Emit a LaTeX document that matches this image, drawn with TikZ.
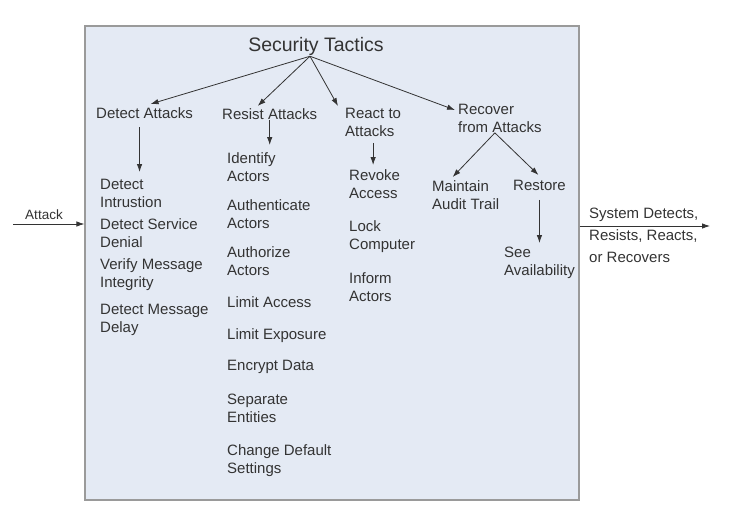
\documentclass[tikz,border=0pt]{standalone}
\usepackage{fontspec}
\setmainfont{Liberation Sans}
\usepackage{xcolor}
\usepackage{tikz}
\usetikzlibrary{arrows.meta}
\usetikzlibrary{positioning}
\definecolor{boxfill}{HTML}{E4EAF4}
\definecolor{boxline}{HTML}{9A9A9A}
\definecolor{inkgray}{HTML}{333333}
\tikzstyle{tactic} = [anchor=north west, inner sep=0pt, align=left, text=inkgray, font=\fontsize{15}{18}\selectfont]
\tikzstyle{arr} = [draw=inkgray, line width=0.8pt, -{Latex[length=8pt,width=5.5pt]}]

\begin{document}
\begin{tikzpicture}[x=1pt, y=-1pt]
\useasboundingbox (0,0) rectangle (735,524);

% the system box
\node [draw=boxline, fill=boxfill, line width=1.2pt, minimum width=494pt,
	minimum height=474pt, inner sep=0pt] (sys) at (332,263) {};

\node [anchor=base, inner sep=0pt, text=inkgray,
	font=\fontsize{19.5}{22}\selectfont] (title) at (316,52) {Security Tactics};

% tactic groups
\node [tactic] (det) at (96,107) {Detect Attacks};
\node [tactic] (res) at (222,108) {Resist Attacks};
\node [tactic] (rea) at (345,108) {React to\\Attacks};
\node [tactic] (rec) at (458,104) {Recover\\from Attacks};

% detect
\node [tactic] (dint) at (100,179) {Detect\\Intrustion};
\node [tactic] (dsd) at (100,218) {Detect Service\\Denial};
\node [tactic] (vmi) at (100,258) {Verify Message\\Integrity};
\node [tactic] (dmd) at (100,304) {Detect Message\\Delay};

% resist
\node [tactic] (ida) at (227,152) {Identify\\Actors};
\node [tactic] (aua) at (227,199) {Authenticate\\Actors};
\node [tactic] (aza) at (227,246) {Authorize\\Actors};
\node [tactic] (lac) at (227,296) {Limit Access};
\node [tactic] (lex) at (227,328) {Limit Exposure};
\node [tactic] (enc) at (227,360) {Encrypt Data};
\node [tactic] (sep) at (227,394) {Separate\\Entities};
\node [tactic] (cds) at (227,444) {Change Default\\Settings};

% react
\node [tactic] (rva) at (349,169) {Revoke\\Access};
\node [tactic] (lco) at (349,220) {Lock\\Computer};
\node [tactic] (ina) at (349,272) {Inform\\Actors};

% recover
\node [tactic] (mat) at (432,180) {Maintain\\Audit Trail};
\node [tactic] (rst) at (513,180) {Restore};
\node [tactic] (see) at (504,247) {See\\Availability};

% input and output
\coordinate (attin) at (13,224);
\coordinate (sysout) at (710,226);
\node [anchor=base, inner sep=0pt, text=inkgray,
	font=\fontsize{13.5}{16}\selectfont] (att) at (44,219) {Attack};
\node [tactic, font=\fontsize{15}{22}\selectfont] (resp) at (589,208)
	{System Detects,\\Resists, Reacts,\\or Recovers};

\draw [arr] (attin) -- (attin -| sys.west);
\draw [arr] (sys.east |- sysout) -- (sysout);

% tree arrows
\coordinate (apex) at ([xshift=-6pt]title.south);
\draw [arr] (apex) -- ([xshift=6pt,yshift=3pt]det.north);
\draw [arr] (apex) -- ([xshift=-12pt,yshift=2pt]res.north);
\draw [arr] (apex) -- ([xshift=-7pt,yshift=2pt]rea.north west);
\draw [arr] (apex) -- ([xshift=-3pt,yshift=-6pt]rec.north west);

\draw [arr] ([xshift=-5pt,yshift=-9pt]det.south)
	-- ([xshift=-5pt,yshift=7pt]det.south |- dint.north);
\draw [arr] ([yshift=-1pt]res.south) -- ([yshift=7pt]res.south |- ida.north);
\draw [arr] ([yshift=-6pt]rea.south) -- ([yshift=4pt]rea.south |- rva.north);

\draw [arr] ([xshift=-5pt]rec.south) -- ([xshift=-13pt,yshift=3pt]mat.north);
\draw [arr] ([xshift=-5pt]rec.south) -- ([xshift=-1pt,yshift=5pt]rst.north);
\draw [arr] ([yshift=-9pt]rst.south) -- ([yshift=4pt]rst.south |- see.north);
\end{tikzpicture}
\end{document}
